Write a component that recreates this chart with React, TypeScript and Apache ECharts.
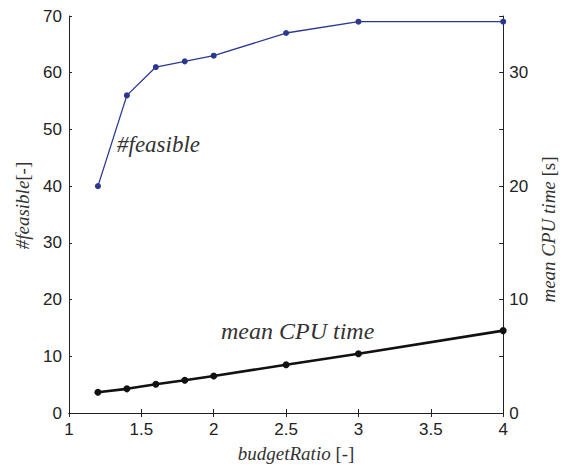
import React, { useEffect, useRef } from "react";
import * as echarts from "echarts";

const budgetRatio = [1.2, 1.4, 1.6, 1.8, 2, 2.5, 3, 4];
const feasible = [40, 56, 61, 62, 63, 67, 69, 69];
const meanCpuTime = [1.83, 2.13, 2.53, 2.88, 3.26, 4.26, 5.22, 7.26];

const BLUE = "#2b3891";
const INK = "#222222";
const SANS = "Liberation Sans";
const SERIF = "Liberation Serif";

function nameStyle(iPad: number[], nPad: number[]) {
  return {
    fontFamily: SERIF,
    fontSize: 19,
    color: "#333",
    rich: {
      i: { fontFamily: SERIF, fontSize: 19, fontStyle: "italic", color: "#333", padding: iPad },
      n: { fontFamily: SERIF, fontSize: 19, color: "#333", padding: nPad },
    },
  };
}

export default function App() {
  const ref = useRef<HTMLDivElement>(null);
  useEffect(() => {
    document.body.style.margin = "0";
    const chart = echarts.init(ref.current!, null, { renderer: "svg" });
    const axisLine = { show: true, lineStyle: { color: INK, width: 1 } };
    chart.setOption({
      animation: false,
      backgroundColor: "#ffffff",
      grid: { left: 69, right: 55, top: 16, bottom: 54 },
      xAxis: [
        {
          type: "value",
          min: 1,
          max: 4,
          interval: 0.5,
          position: "bottom",
          axisLine,
          axisTick: { show: true, inside: true, length: 4, lineStyle: { color: INK } },
          axisLabel: { color: INK, fontFamily: SANS, fontSize: 17, margin: 8 },
          splitLine: { show: false },
          name: "{i|budgetRatio} {n|[-]}",
          nameLocation: "middle",
          nameGap: 31,
          nameTextStyle: nameStyle([0, 0, 0, 20], [0, 0, 0, 0]),
        },
        {
          type: "value",
          min: 1,
          max: 4,
          interval: 0.5,
          position: "top",
          axisLine,
          axisTick: { show: true, inside: true, length: 4, lineStyle: { color: INK } },
          axisLabel: { show: false },
          splitLine: { show: false },
        },
      ],
      yAxis: [
        {
          type: "value",
          min: 0,
          max: 70,
          interval: 10,
          position: "left",
          axisLine,
          axisTick: { show: true, inside: true, length: 3, lineStyle: { color: INK } },
          axisLabel: { color: INK, fontFamily: SANS, fontSize: 17, margin: 7 },
          splitLine: { show: false },
          name: "{i|#feasible}{n|[-]}",
          nameLocation: "middle",
          nameRotate: 90,
          nameGap: 37,
          nameTextStyle: nameStyle([0, 0, 0, 18], [0, 0, 0, 0]),
        },
        {
          type: "value",
          min: 0,
          max: 35,
          interval: 5,
          position: "right",
          axisLine,
          axisTick: { show: true, inside: true, length: 4, lineStyle: { color: INK } },
          axisLabel: {
            color: INK,
            fontFamily: SANS,
            fontSize: 17,
            margin: 6,
            formatter: (v: number) => (v % 10 === 0 ? String(v) : ""),
          },
          splitLine: { show: false },
          name: "{i|mean CPU time} {n|[s]}",
          nameLocation: "middle",
          nameRotate: 90,
          nameGap: 33,
          nameTextStyle: nameStyle([0, 0, 0, 0], [0, 30, 0, 0]),
        },
      ],
      series: [
        {
          type: "line",
          name: "#feasible",
          xAxisIndex: 0,
          yAxisIndex: 0,
          data: budgetRatio.map((x, i) => [x, feasible[i]]),
          symbol: "circle",
          symbolSize: 6,
          lineStyle: { color: BLUE, width: 1.3 },
          itemStyle: { color: BLUE },
        },
        {
          type: "line",
          name: "mean CPU time",
          xAxisIndex: 0,
          yAxisIndex: 1,
          data: budgetRatio.map((x, i) => [x, meanCpuTime[i]]),
          symbol: "circle",
          symbolSize: 7,
          lineStyle: { color: "#111111", width: 2.6 },
          itemStyle: { color: "#111111" },
        },
      ],
      graphic: [
        {
          type: "text",
          left: 117,
          top: 133,
          style: {
            text: "#feasible",
            fontFamily: SERIF,
            fontStyle: "italic",
            fontSize: 23,
            fill: "#333",
          },
        },
        {
          type: "text",
          left: 221,
          top: 319,
          style: {
            text: "mean CPU time",
            fontFamily: SERIF,
            fontStyle: "italic",
            fontSize: 24,
            fill: "#333",
          },
        },
      ],
    });
    return () => chart.dispose();
  }, []);
  return <div ref={ref} style={{ width: 566, height: 468 }} />;
}
